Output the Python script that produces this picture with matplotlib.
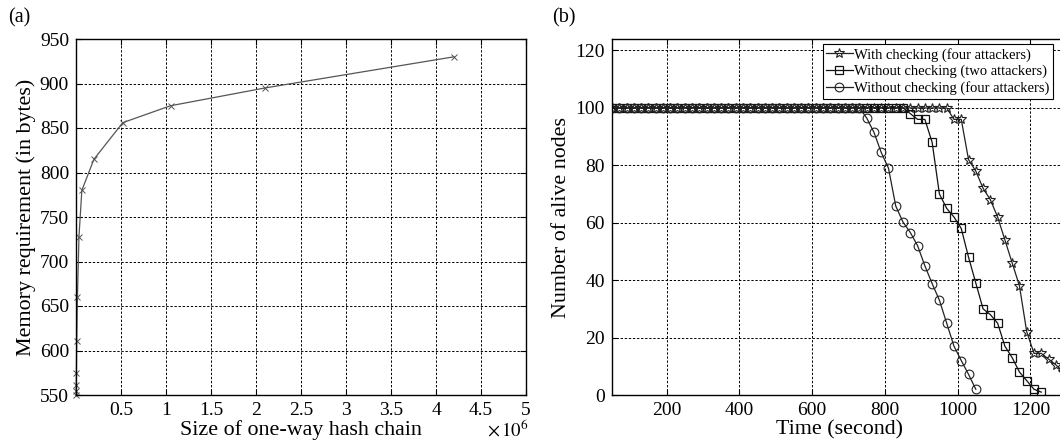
import matplotlib
matplotlib.use('Agg')
import matplotlib.pyplot as plt
import numpy as np

plt.rcParams['font.family'] = ['Liberation Serif', 'DejaVu Serif']

# (a) memory vs hash chain size (x in units of 1e6)
chain_size = [0.0005, 0.001, 0.002, 0.004, 0.008, 0.016, 0.033, 0.065, 0.2, 0.52, 1.05, 2.1, 4.2]
memory_bytes = [550, 555, 561, 575, 611, 660, 728, 780, 815, 856, 875, 895, 930]

# (b) alive nodes vs time, sampled every 20 s from 50 s
time_s = list(range(50, 1310, 20))
with_check_4 = [100] * 47 + [96, 96, 82, 78, 72, 68, 62, 54, 46, 38, 22, 14.5, 14.5, 12.5, 10.5, 8]
without_check_2 = [100] * 41 + [98, 96, 96, 88, 70, 65, 62, 58, 48, 39, 30, 28, 25, 17, 13, 8, 5, 2, 1]
without_check_4 = [100] * 35 + [96.5, 91.5, 84.5, 79, 65.8, 60.2, 56.6, 52, 45, 38.8, 33, 25, 17, 12, 7.2, 2]

grid_kw = dict(color='black', linestyle=(0, (2.4, 1.8)), linewidth=0.7)

fig = plt.figure(figsize=(10.6, 4.43), dpi=100)

# ---- panel (a)
ax1 = fig.add_axes([76/1060, 48/443, 450/1060, 356/443])
ax1.plot(chain_size, memory_bytes, color='#555555', linewidth=0.9,
         marker='x', markersize=4, markeredgewidth=0.7, clip_on=False)
ax1.set_xlim(0, 5)
ax1.set_ylim(550, 950)
ax1.set_xticks([0.5, 1, 1.5, 2, 2.5, 3, 3.5, 4, 4.5, 5])
ax1.set_xticklabels(['0.5', '1', '1.5', '2', '2.5', '3', '3.5', '4', '4.5', '5'])
ax1.set_yticks(range(550, 951, 50))
ax1.grid(True, **grid_kw)
ax1.set_xlabel('Size of one-way hash chain', fontsize=15.8, labelpad=1)
ax1.set_ylabel('Memory requirement (in bytes)', fontsize=15.8, labelpad=3)
fig.text(508/1060, 1 - 430/443, r'$\times\,10^{6}$', fontsize=13.5, ha='center', va='center',
         math_fontfamily='stix')

# ---- panel (b)
px_per_s = 0.3638
ax2 = fig.add_axes([612/1060, 48/443, 1250*px_per_s/1060, 356/443])
ax2.plot(time_s[:len(with_check_4)], with_check_4, color='#222222', linewidth=0.9,
         marker='*', markersize=7, markerfacecolor='none', markeredgecolor='#222222',
         markeredgewidth=0.8, label='With checking (four attackers)')
ax2.plot(time_s[:len(without_check_2)], without_check_2, color='#111111', linewidth=0.9,
         marker='s', markersize=6.3, markerfacecolor='none', markeredgecolor='#111111',
         markeredgewidth=0.9, label='Without checking (two attackers)')
ax2.plot(time_s[:len(without_check_4)], without_check_4, color='#222222', linewidth=0.9,
         marker='o', markersize=6.3, markerfacecolor='none', markeredgecolor='#222222',
         markeredgewidth=0.8, label='Without checking (four attackers)')
ax2.set_xlim(50, 1300)
ax2.set_ylim(0, 124)
ax2.set_xticks([200, 400, 600, 800, 1000, 1200])
ax2.set_yticks([0, 20, 40, 60, 80, 100, 120])
ax2.grid(True, **grid_kw)
ax2.set_xlabel('Time (second)', fontsize=15.8, labelpad=1)
ax2.set_ylabel('Number of alive nodes', fontsize=15.8, labelpad=3)
leg = ax2.legend(loc='upper right', bbox_to_anchor=(1053/1060, 1 - 44/443),
                 bbox_transform=fig.transFigure, borderaxespad=0, fontsize=10.5,
                 handlelength=1.8, handletextpad=0.1, borderpad=0.25, labelspacing=0.2,
                 fancybox=False, framealpha=1, edgecolor='black')
leg.get_frame().set_linewidth(0.8)

for ax in (ax1, ax2):
    ax.set_axisbelow(True)
    ax.tick_params(direction='in', length=4, width=0.8, labelsize=14, pad=5,
                   top=True, right=True)
    for s in ax.spines.values():
        s.set_linewidth(1.0)

fig.text(19/1060, 1 - 18/443, '(a)', fontsize=14.5, ha='center', va='center')
fig.text(564/1060, 1 - 18/443, '(b)', fontsize=14.5, ha='center', va='center')

fig.savefig('out.png', dpi=100)
